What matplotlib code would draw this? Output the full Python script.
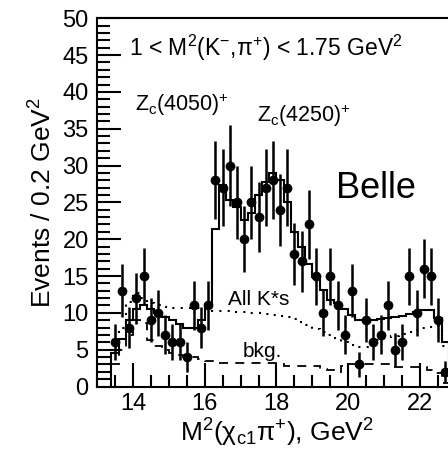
import numpy as np
import matplotlib
matplotlib.use("Agg")
import matplotlib.pyplot as plt
from matplotlib.ticker import MultipleLocator

plt.rcParams["font.family"] = ["Liberation Sans", "DejaVu Sans"]
plt.rcParams["mathtext.fontset"] = "custom"
plt.rcParams["mathtext.rm"] = "Liberation Sans"
plt.rcParams["mathtext.it"] = "Liberation Sans:italic"
plt.rcParams["mathtext.bf"] = "Liberation Sans:bold"
plt.rcParams["mathtext.sf"] = "Liberation Sans"

# bin edges (0.2 GeV^2 bins)
bin_lo = 13.4
bin_width = 0.2

# observed events per bin
counts = [6, 13, 8, 12, 15, 9, 10, 7, 6, 6, 4, 11, 8, 11,
          28, 27, 30, 25, 20, 25, 23, 27, 28, 24, 27, 18, 17, 22,
          15, 10, 15, 11, 7, 13, 3, 9, 6, 7, 11, 5, 6, 15, 10,
          16, 15, 9, 2]

# total fit
fit_total = [4.5, 6.5, 9.0, 10.5, 11.0, 10.5, 10.0, 9.5, 9.0, 8.5, 8.0, 8.0, 9.0, 11.0,
             21.4, 27.3, 25.3, 24.4, 22.6, 23.5, 26.0, 27.8, 29.0, 28.0, 25.0, 21.0, 19.0, 16.7,
             14.9, 13.1, 11.8, 11.3, 10.5, 9.7, 9.0, 8.8, 9.0, 9.1, 9.3, 9.4, 9.6, 9.9, 10.1,
             10.4, 10.4, 9.3, 6.0]

# K* resonances only
fit_kstar = [5.0, 8.0, 11.5, 12.7, 12.0, 11.3, 11.0, 10.8, 10.7, 10.7, 10.7, 10.7, 10.6, 10.5,
             10.3, 10.2, 10.2, 10.1, 10.1, 10.0, 10.0, 9.8, 9.7, 9.6, 9.4, 9.1, 8.7, 8.3,
             7.8, 7.4, 7.0, 6.6, 6.1, 5.7, 5.3, 5.3, 5.8, 6.3, 6.6, 6.8, 7.1, 7.4, 7.7,
             8.0, 8.1, 8.2, 5.5]

# background
fit_bkg = [3.0, 5.0, 7.0, 9.0, 8.6, 6.3, 5.5, 5.0, 4.5, 4.3, 4.0, 4.0, 3.8, 3.5,
           3.4, 3.2, 3.2, 3.2, 3.2, 3.2, 3.2, 3.2, 3.2, 3.0, 2.8, 2.8, 2.8, 2.8,
           2.8, 2.4, 2.2, 2.0, 2.8, 3.0, 3.0, 3.0, 3.0, 3.0, 3.0, 2.7, 2.7, 2.7, 2.7,
           2.7, 2.3, 1.8, 0.5]

n_bins = len(counts)
edges = bin_lo + bin_width * np.arange(n_bins + 1)
centers = 0.5 * (edges[:-1] + edges[1:])
counts_arr = np.array(counts, dtype=float)
errors = np.sqrt(counts_arr)

fig = plt.figure(figsize=(4.48, 4.54), dpi=100)
ax = fig.add_axes([97 / 448, 67.5 / 454, 359 / 448, 368.2 / 454])

ax.stairs(fit_total, edges, color="black", lw=1.5, baseline=0)
ax.stairs(fit_kstar, edges, color="black", lw=1.5, linestyle=(0, (1, 3)), baseline=None)
ax.stairs(fit_bkg, edges, color="black", lw=1.3, linestyle=(0, (5, 4)), baseline=None)

ax.errorbar(centers, counts_arr, yerr=errors, fmt="o", color="black",
            markersize=6, elinewidth=1.8, capsize=0, zorder=5)

ax.set_xlim(13.0, 23.0)
ax.set_ylim(0, 50)

ax.xaxis.set_major_locator(MultipleLocator(2))
ax.xaxis.set_minor_locator(MultipleLocator(0.5))
ax.yaxis.set_major_locator(MultipleLocator(5))
ax.yaxis.set_minor_locator(MultipleLocator(1))
ax.tick_params(which="both", direction="in", top=False, right=False,
               width=1.5, labelsize=17)
ax.tick_params(which="major", length=17)
ax.tick_params(which="minor", length=9)
ax.tick_params(axis="x", which="major", pad=5)
ax.tick_params(axis="y", which="major", pad=6)

for sp in ax.spines.values():
    sp.set_linewidth(1.5)

ax.set_xlabel("M$^2$(χ$_{\\rm c1}$π$^{+}$), GeV$^2$", fontsize=19, labelpad=1)
ax.set_ylabel("Events / 0.2 GeV$^2$", fontsize=19, labelpad=4)

ax.text(13.9, 46.0, "1 < M$^2$(K$^{-}$,π$^{+}$) < 1.75 GeV$^2$", fontsize=16.5,
        va="center", ha="left")
ax.text(14.05, 38.3, "Z$_{\\rm c}$(4050)$^{+}$", fontsize=15.5, va="center", ha="left")
ax.text(17.45, 36.7, "Z$_{\\rm c}$(4250)$^{+}$", fontsize=15.5, va="center", ha="left")
ax.text(19.65, 26.9, "Belle", fontsize=26, va="center", ha="left")
ax.text(16.65, 11.8, "All K*s", fontsize=15, va="center", ha="left")
ax.text(17.07, 4.8, "bkg.", fontsize=15, va="center", ha="left")

fig.savefig("out.png", dpi=100)
